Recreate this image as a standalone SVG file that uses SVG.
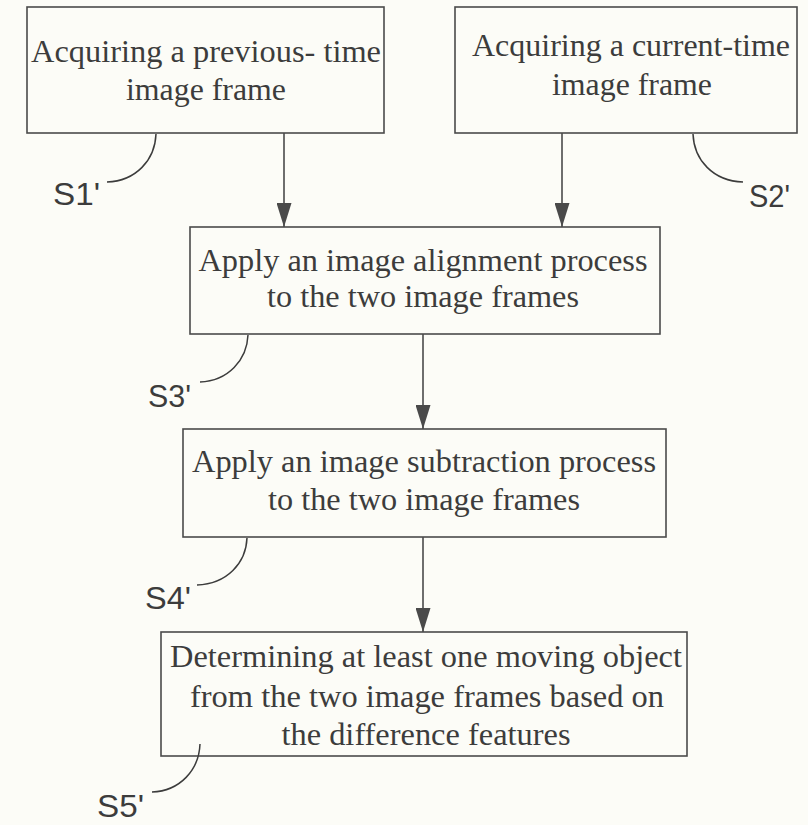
<svg xmlns="http://www.w3.org/2000/svg" width="808" height="825" viewBox="0 0 808 825">
<defs>
<style>
.box{fill:none;stroke:#4a4a4a;stroke-width:1.6}
.t{font-family:"Liberation Serif","Times New Roman",serif;font-size:31px;fill:#3c3c3c;text-anchor:middle}
.lbl{font-family:"Liberation Sans",Arial,sans-serif;font-size:31px;fill:#3c3c3c}
.conn{fill:none;stroke:#4a4a4a;stroke-width:1.6}
.hook{fill:none;stroke:#3c3c3c;stroke-width:1.5}
</style>
<marker id="ah" viewBox="0 0 24 15" refX="24" refY="7.5" markerWidth="24" markerHeight="15" markerUnits="userSpaceOnUse" orient="auto">
<path d="M0,0 L24,7.5 L0,15 Z" fill="#4a4a4a"/>
</marker>
</defs>
<rect width="808" height="825" fill="#fcfcf7"/>
<g id="connectors">
<line class="conn" x1="284" y1="133" x2="284" y2="227" marker-end="url(#ah)"/>
<line class="conn" x1="562" y1="133" x2="562" y2="227" marker-end="url(#ah)"/>
<line class="conn" x1="423" y1="334" x2="423" y2="429" marker-end="url(#ah)"/>
<line class="conn" x1="423" y1="537" x2="423" y2="632" marker-end="url(#ah)"/>
</g>
<g id="S1">
<rect class="box" x="27" y="7" width="357" height="126"/>
<text class="t" x="206" y="62" textLength="350" lengthAdjust="spacingAndGlyphs">Acquiring a previous- time</text>
<text class="t" x="206" y="100" textLength="160" lengthAdjust="spacingAndGlyphs">image frame</text>
<path class="hook" d="M156,134 C155,160 136,181 107,182"/>
<text class="lbl" x="53" y="205" textLength="47" lengthAdjust="spacingAndGlyphs">S1'</text>
</g>
<g id="S2">
<rect class="box" x="455" y="7" width="342" height="126"/>
<text class="t" x="631" y="56" textLength="318" lengthAdjust="spacingAndGlyphs">Acquiring a current-time</text>
<text class="t" x="632" y="95" textLength="160" lengthAdjust="spacingAndGlyphs">image frame</text>
<path class="hook" d="M693,134 C694,160 713,181 743,182"/>
<text class="lbl" x="749" y="207" textLength="41" lengthAdjust="spacingAndGlyphs">S2'</text>
</g>
<g id="S3">
<rect class="box" x="190" y="227" width="470" height="107"/>
<text class="t" x="423" y="271" textLength="449" lengthAdjust="spacingAndGlyphs">Apply an image alignment process</text>
<text class="t" x="423" y="307" textLength="312" lengthAdjust="spacingAndGlyphs">to the two image frames</text>
<path class="hook" d="M248,335 C247,360 228,381 200,382"/>
<text class="lbl" x="148" y="407" textLength="43" lengthAdjust="spacingAndGlyphs">S3'</text>
</g>
<g id="S4">
<rect class="box" x="183" y="429" width="483" height="108"/>
<text class="t" x="424" y="472" textLength="464" lengthAdjust="spacingAndGlyphs">Apply an image subtraction process</text>
<text class="t" x="424" y="510" textLength="312" lengthAdjust="spacingAndGlyphs">to the two image frames</text>
<path class="hook" d="M247,538 C246,563 227,584 197,585"/>
<text class="lbl" x="145" y="609" textLength="46" lengthAdjust="spacingAndGlyphs">S4'</text>
</g>
<g id="S5">
<rect class="box" x="161" y="632" width="526" height="124"/>
<text class="t" x="426" y="667" textLength="512" lengthAdjust="spacingAndGlyphs">Determining at least one moving object</text>
<text class="t" x="427" y="707" textLength="474" lengthAdjust="spacingAndGlyphs">from the two image frames based on</text>
<text class="t" x="426" y="745" textLength="289" lengthAdjust="spacingAndGlyphs">the difference features</text>
<path class="hook" d="M200,744 C199,770 180,791 152,792"/>
<text class="lbl" x="97" y="817" textLength="47" lengthAdjust="spacingAndGlyphs">S5'</text>
</g>
</svg>
